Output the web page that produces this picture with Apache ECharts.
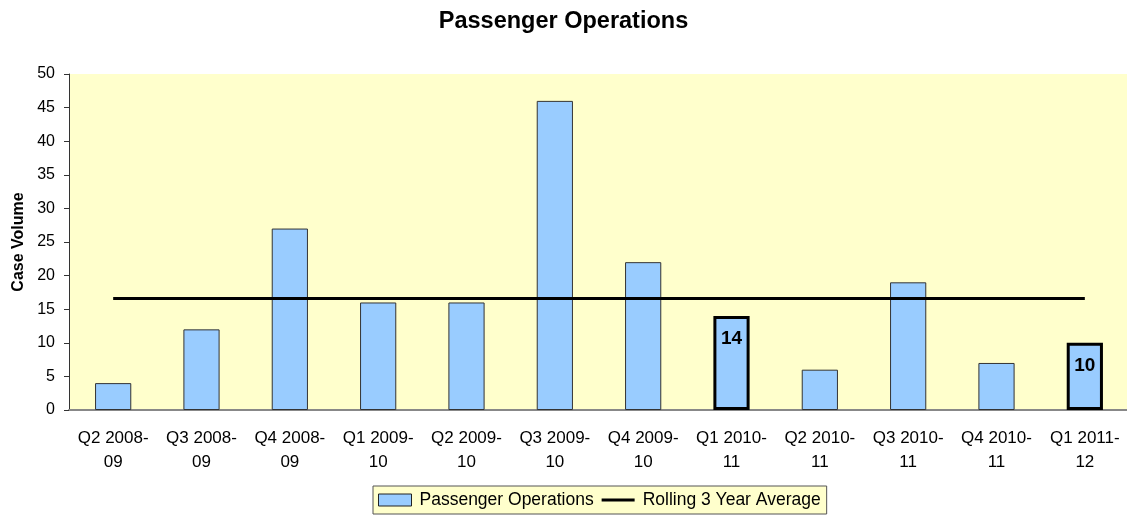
<!DOCTYPE html>
<html>
<head>
<meta charset="utf-8">
<script src="https://cdn.jsdelivr.net/npm/echarts@6/dist/echarts.min.js"></script>
<style>
  html, body { margin: 0; padding: 0; background: #fff; }
  #chart { width: 1127px; height: 515px; }
</style>
</head>
<body>
<div id="chart"></div>
<script>
const quarters = ['Q2 2008-\n09', 'Q3 2008-\n09', 'Q4 2008-\n09', 'Q1 2009-\n10', 'Q2 2009-\n10', 'Q3 2009-\n10',
  'Q4 2009-\n10', 'Q1 2010-\n11', 'Q2 2010-\n11', 'Q3 2010-\n11', 'Q4 2010-\n11', 'Q1 2011-\n12']
const caseVolume = [4, 12, 27, 16, 16, 46, 22, 14, 6, 19, 7, 10]
const rollingAvg = [16.6, 16.6, 16.6, 16.6, 16.6, 16.6, 16.6, 16.6, 16.6, 16.6, 16.6, 16.6]
const highlighted = [7, 11]

const font = 'Liberation Sans, Arial, sans-serif'

const barData = caseVolume.map((v, i) => {
  if (highlighted.indexOf(i) < 0) return v
  return {
    value: v,
    itemStyle: { borderColor: '#000', borderWidth: 3 },
    label: {
      show: true,
      position: 'insideTop',
      distance: 13,
      fontWeight: 'bold',
      fontSize: 19,
      color: '#000',
      fontFamily: font,
    },
  }
})

const myChart = echarts.init(document.getElementById('chart'))
myChart.setOption({
  animation: false,
  textStyle: { fontFamily: font },
  title: {
    text: 'Passenger Operations',
    left: 'center',
    top: 5,
    textStyle: { fontSize: 23.5, fontWeight: 'bold', color: '#000', fontFamily: font },
  },
  grid: {
    left: 69,
    right: -2,
    top: 74,
    bottom: 105,
    backgroundColor: '#ffffcc',
    show: true,
    borderWidth: 0,
    outerBoundsMode: 'none',
    containLabel: false,
  },
  legend: {
    bottom: 1,
    left: 373,
    backgroundColor: '#ffffcc',
    borderColor: '#555',
    borderWidth: 1,
    borderRadius: 0,
    padding: [5, 6, 5, 5],
    itemGap: 8,
    itemWidth: 33,
    itemHeight: 12,
    textStyle: { fontSize: 17.5, color: '#000', fontFamily: font, padding: [0, 0, 0, 3] },
    data: [
      { name: 'Passenger Operations', icon: 'rect', itemStyle: { borderColor: '#222', borderWidth: 1 } },
      { name: 'Rolling 3 Year Average', icon: 'path://M0,0 L34,0 L34,3 L0,3 Z' },
    ],
  },
  xAxis: {
    type: 'category',
    data: quarters,
    axisLine: { lineStyle: { color: '#888', width: 2 } },
    axisTick: { show: false },
    axisLabel: { fontSize: 17, color: '#000', margin: 16, lineHeight: 24, interval: 0 },
  },
  yAxis: {
    type: 'value',
    min: 0,
    max: 50,
    interval: 5,
    name: 'Case Volume',
    nameLocation: 'middle',
    nameGap: 42,
    nameTextStyle: { fontSize: 16, fontWeight: 'bold', color: '#000', fontFamily: font },
    splitLine: { show: false },
    axisLine: { show: true, lineStyle: { color: '#333', width: 1 } },
    axisTick: { show: true, length: 5, lineStyle: { color: '#333' } },
    axisLabel: { fontSize: 16, color: '#000', margin: 14 },
  },
  series: [
    {
      name: 'Passenger Operations',
      type: 'bar',
      barWidth: '41%',
      itemStyle: { color: '#99ccff', borderColor: '#333', borderWidth: 1 },
      data: barData,
      z: 2,
    },
    {
      name: 'Rolling 3 Year Average',
      type: 'line',
      symbol: 'none',
      lineStyle: { color: '#000', width: 3 },
      itemStyle: { color: '#000' },
      data: rollingAvg,
      z: 3,
    },
  ],
})
</script>
</body>
</html>
